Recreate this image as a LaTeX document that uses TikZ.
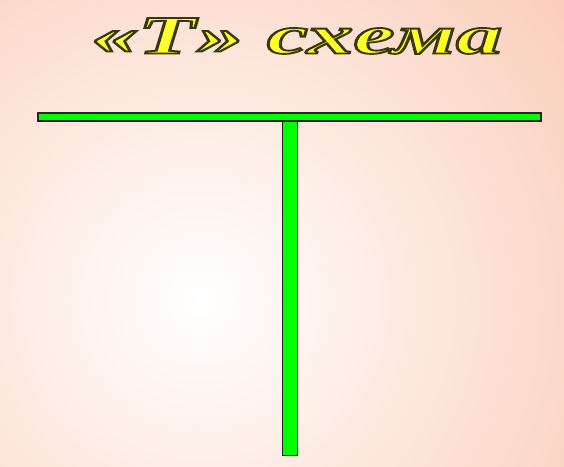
\documentclass[tikz,border=0pt]{standalone}
\usepackage{fontspec}
\newfontfamily\titlefont{Liberation Serif}
\definecolor{peach}{RGB}{250,200,178}
\definecolor{barfill}{RGB}{0,255,0}
\definecolor{titleyellow}{RGB}{255,255,40}
\newcommand{\outlined}[1]{\special{pdf:literal direct 2 Tr 1.8 w 0.22 0.22 0.06 RG}#1\special{pdf:literal direct 0 Tr}}
\tikzset{
  bar/.style={draw=black!85, line width=1.4pt, fill=barfill},
  titletext/.style={font=\titlefont\bfseries\itshape\fontsize{54}{58}\selectfont, xscale=1.72, inner sep=0pt, text=titleyellow}
}
\begin{document}
\begin{tikzpicture}[x=1pt,y=-1pt]
\useasboundingbox (0,0) rectangle (564,466);
\begin{scope}
\clip (0,0) rectangle (564,466);
\shade[inner color=white, outer color=peach] (-330,-230) rectangle (730,830);
\end{scope}
\node[titletext] (title) at (297,36) {\outlined{«Т» схема}};
% bars
\node[bar, minimum width=503pt, minimum height=8pt, inner sep=0pt] (top) at (289.5,117) {};
\node[bar, anchor=north, minimum width=15pt, minimum height=334pt, inner sep=0pt] (stem) at (290,121) {};
\end{tikzpicture}
\end{document}
